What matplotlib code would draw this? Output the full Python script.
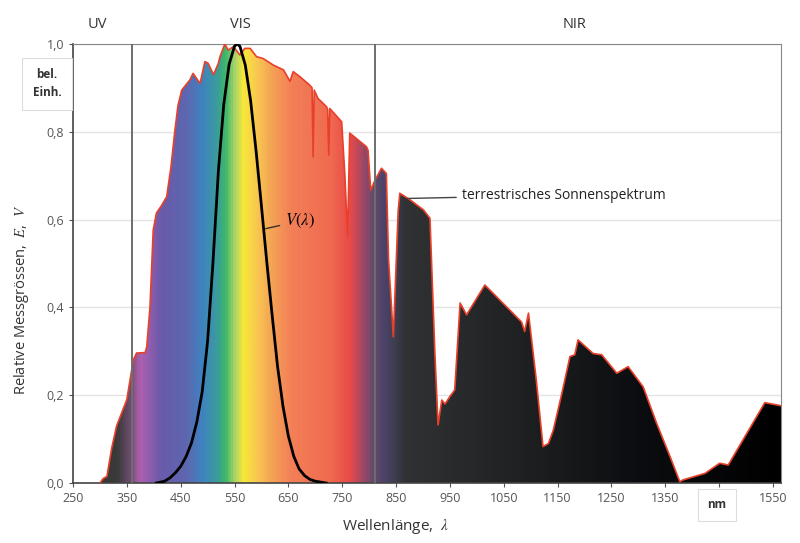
import numpy as np
import matplotlib
matplotlib.use("Agg")
import matplotlib.pyplot as plt
from matplotlib.colors import LinearSegmentedColormap
from matplotlib.patches import Polygon

plt.rcParams["font.family"] = ["Open Sans", "DejaVu Sans"]
plt.rcParams["mathtext.fontset"] = "stix"

# terrestrisches Sonnenspektrum (relativ)
sun_wl = [300, 306, 313, 322, 331, 350, 362, 368, 384, 387, 393, 399, 405, 415,
          424, 432, 439, 445, 452, 467, 473, 486, 495, 501, 511, 520, 523, 532,
          538, 548, 560, 569, 579, 591, 603, 622, 641, 653, 659, 671, 690, 694,
          696, 698, 705, 721, 723, 725, 727, 746, 749, 755, 760, 764, 795, 798,
          803, 811, 823, 832, 836, 845, 854, 857, 876, 901, 913, 922, 928, 935,
          941, 950, 959, 969, 981, 1015, 1083, 1089, 1096, 1110, 1123, 1133, 1142,
          1158, 1173, 1182, 1188, 1216, 1232, 1260, 1281, 1309, 1334, 1359, 1377,
          1383, 1424, 1451, 1467, 1535, 1565]
sun_val = [0.0, 0.01, 0.015, 0.08, 0.13, 0.19, 0.28, 0.296, 0.297, 0.31, 0.40, 0.576,
           0.615, 0.633, 0.652, 0.72, 0.80, 0.86, 0.895, 0.918, 0.933, 0.91, 0.96,
           0.956, 0.93, 0.956, 0.971, 1.0, 0.986, 0.994, 0.975, 0.99, 0.99, 0.971,
           0.967, 0.952, 0.941, 0.915, 0.937, 0.926, 0.906, 0.90, 0.743, 0.895,
           0.876, 0.857, 0.85, 0.747, 0.853, 0.827, 0.823, 0.70, 0.561, 0.797,
           0.766, 0.758, 0.667, 0.69, 0.717, 0.705, 0.51, 0.333, 0.62, 0.66, 0.645,
           0.622, 0.603, 0.30, 0.132, 0.189, 0.18, 0.197, 0.212, 0.41, 0.383, 0.451,
           0.367, 0.345, 0.387, 0.24, 0.083, 0.09, 0.12, 0.204, 0.288, 0.292, 0.326,
           0.295, 0.292, 0.25, 0.265, 0.219, 0.136, 0.06, 0.003, 0.007, 0.022,
           0.045, 0.041, 0.183, 0.176]

# Hellempfindlichkeitskurve V(lambda)
v_wl = [405, 410, 420, 430, 440, 450, 460, 470, 480, 490, 500, 510, 520,
        530, 540, 550, 555, 560, 570, 580, 590, 600, 610, 620, 630, 640, 650, 660,
        670, 680, 690, 700, 710, 720]
v_val = [0.0, 0.0012, 0.004, 0.0116, 0.023, 0.038, 0.06, 0.091,
         0.139, 0.208, 0.323, 0.503, 0.71, 0.862, 0.954, 0.995, 1.0, 0.995, 0.952,
         0.87, 0.757, 0.631, 0.503, 0.381, 0.265, 0.175, 0.107, 0.061, 0.032, 0.017,
         0.0082, 0.0041, 0.0021, 0.0]

# Farbverlauf ueber die Wellenlaenge
grad_wl = [250, 330, 352, 372, 411, 458, 488, 514, 532, 549, 565, 590, 616, 653,
           727, 764, 783, 805, 829, 848, 866, 1100, 1300, 1565]
grad_col = ["#333333", "#3a3a3a", "#6a4a6a", "#b060b0", "#6a5aaa", "#5e66b0",
            "#3f82c0", "#3a9aa0", "#3cb86a", "#a8d468", "#f8e838", "#f8c850",
            "#f5a555", "#f38058", "#f06a50", "#e84a48", "#b04860", "#6a4a6e",
            "#4a4268", "#3e3e50", "#303234", "#1e1f21", "#0c0d10", "#000000"]

x_ticks = list(range(250, 1551, 100))
x_ticklabels = [str(t) if t != 1450 else "" for t in x_ticks]
y_ticks = [0.0, 0.2, 0.4, 0.6, 0.8, 1.0]
y_ticklabels = ["0,0", "0,2", "0,4", "0,6", "0,8", "1,0"]

X_MIN, X_MAX = 250, 1565

fig = plt.figure(figsize=(8, 5.43), dpi=100)
ax = fig.add_axes([73 / 800, 1 - 483 / 543, 708 / 800, 439 / 543])

# Gradient, auf die Spektrumsflaeche beschnitten
span = X_MAX - X_MIN
cmap = LinearSegmentedColormap.from_list(
    "spek", [((w - X_MIN) / span, c) for w, c in zip(grad_wl, grad_col)])
grad = np.linspace(0, 1, 1200).reshape(1, -1)
im = ax.imshow(grad, extent=[X_MIN, X_MAX, 0, 1], aspect="auto", cmap=cmap,
               origin="lower", zorder=1, interpolation="bilinear")
poly = Polygon(list(zip(sun_wl, sun_val)) + [(sun_wl[-1], 0), (sun_wl[0], 0)],
               closed=True, facecolor="none", edgecolor="none")
ax.add_patch(poly)
im.set_clip_path(poly)
ax.plot(sun_wl, sun_val, color="#e8402a", lw=1.2, zorder=3)

# Bereichsgrenzen UV / VIS / NIR
for b in (360, 810):
    ax.axvline(b, color="#6e6e6e", lw=1.4, zorder=4)

ax.plot(v_wl, v_val, color="black", lw=2, zorder=5)

ax.set_xlim(X_MIN, X_MAX)
ax.set_ylim(0, 1)
ax.set_xticks(x_ticks)
ax.set_xticklabels(x_ticklabels)
ax.set_yticks(y_ticks)
ax.set_yticklabels(y_ticklabels)
ax.tick_params(labelsize=9, colors="#555555", length=3, width=0.8)
ax.yaxis.grid(True, color="#e4e4e4", lw=1)
ax.set_axisbelow(True)
for s in ("top", "right"):
    ax.spines[s].set_color("#888888")
for s in ("left", "bottom"):
    ax.spines[s].set_color("#444444")
    ax.spines[s].set_linewidth(1.2)

# Beschriftungen
tr = ax.get_xaxis_transform()
for lab, w in (("UV", 296), ("VIS", 560), ("NIR", 1182)):
    ax.text(w, 1.045, lab, transform=tr, ha="center", va="center",
            fontsize=10.5, color="#333333")

ax.annotate(r"$V(\lambda)$", xy=(603, 0.578), xytext=(644, 0.597),
            fontsize=12, va="center", ha="left",
            arrowprops=dict(arrowstyle="-", color="#333333", lw=1))
ax.annotate("terrestrisches Sonnenspektrum", xy=(866, 0.648), xytext=(972, 0.656),
            fontsize=10, va="center", ha="left", color="#222222",
            arrowprops=dict(arrowstyle="-", color="#444444", lw=1))

fig.text(22 / 800, 1 - 300 / 543, r"Relative Messgrössen,  $E$,  $V$",
         rotation=90, ha="center", va="center", fontsize=10.5, color="#333333")
fig.text(396 / 800, 1 - 527 / 543, r"Wellenlänge,  $\lambda$",
         ha="center", va="center", fontsize=11, color="#333333")

fig.text(47 / 800, 1 - 84 / 543, "bel.\nEinh.", ha="center", va="center",
         fontsize=8.5, fontweight="bold", color="#333333", linespacing=1.5,
         bbox=dict(boxstyle="square,pad=0.9", fc="white", ec="#dddddd", lw=0.8))
fig.text(717 / 800, 1 - 505 / 543, "nm", ha="center", va="center",
         fontsize=8.5, fontweight="bold", color="#333333",
         bbox=dict(boxstyle="square,pad=0.8", fc="white", ec="#dddddd", lw=0.8))

fig.savefig("out.png", dpi=100)
